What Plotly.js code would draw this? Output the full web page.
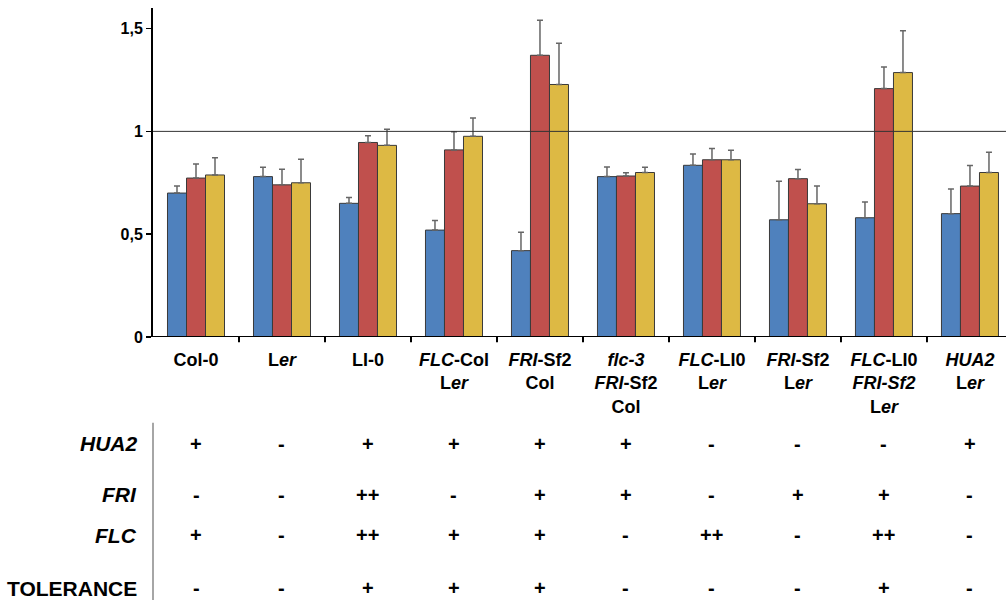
<!DOCTYPE html>
<html>
<head>
<meta charset="utf-8">
<script src="https://cdn.plot.ly/plotly-3.0.1.min.js"></script>
<style>
  html, body { margin: 0; padding: 0; background: #fff; }
  #chart { width: 1006px; height: 600px; }
</style>
</head>
<body>
<div id="chart"></div>
<script>
// Genotype labels (x categories)
const genotypes = [
  "Col-0",
  "L<i>er</i>",
  "LI-0",
  "<i>FLC</i>-Col<br>L<i>er</i>",
  "<i>FRI</i>-Sf2<br>Col",
  "<i>flc-3</i><br><i>FRI</i>-Sf2<br>Col",
  "<i>FLC</i>-LI0<br>L<i>er</i>",
  "<i>FRI</i>-Sf2<br>L<i>er</i>",
  "<i>FLC</i>-LI0<br><i>FRI-Sf2</i><br>L<i>er</i>",
  "<i>HUA2</i><br>L<i>er</i>"
];

// Relative values for the three series
const blueValues   = [0.70, 0.78, 0.65, 0.52, 0.42, 0.78, 0.835, 0.57, 0.58, 0.60];
const redValues    = [0.773, 0.74, 0.946, 0.91, 1.37, 0.783, 0.862, 0.77, 1.208, 0.734];
const yellowValues = [0.788, 0.75, 0.932, 0.976, 1.228, 0.80, 0.862, 0.648, 1.286, 0.80];

// Upper error bars
const blueErr   = [0.034, 0.046, 0.028, 0.046, 0.089, 0.047, 0.055, 0.188, 0.077, 0.120];
const redErr    = [0.068, 0.076, 0.033, 0.088, 0.170, 0.016, 0.055, 0.045, 0.105, 0.100];
const yellowErr = [0.084, 0.114, 0.078, 0.089, 0.201, 0.026, 0.046, 0.086, 0.203, 0.098];

// Genotype table rows below the chart
const rowNames = ["<i>HUA2</i>", "<i>FRI</i>", "<i>FLC</i>", "TOLERANCE"];
const rowHUA2      = ["+", "-", "+", "+", "+", "+", "-", "-", "-", "+"];
const rowFRI       = ["-", "-", "++", "-", "+", "+", "-", "+", "+", "-"];
const rowFLC       = ["+", "-", "++", "+", "+", "-", "++", "-", "++", "-"];
const rowTolerance = ["-", "-", "+", "+", "+", "-", "-", "-", "+", "-"];

const yTickVals = [0, 0.5, 1, 1.5];
const yTickText = ["0", "0,5", "1", "1,5"];

const FONT = "Liberation Sans, Arial, Helvetica, sans-serif";
const catIdx = genotypes.map((_, i) => i);

function barTrace(values, errs, color) {
  return {
    type: "bar",
    x: catIdx,
    y: values,
    marker: { color: color, line: { color: "#3a3a3a", width: 1 } },
    error_y: {
      type: "data", symmetric: false, array: errs,
      arrayminus: errs.map(() => 0),
      color: "#666", thickness: 1.5, width: 3
    },
    hoverinfo: "y"
  };
}

const traces = [
  barTrace(blueValues, blueErr, "#4F81BD"),
  barTrace(redValues, redErr, "#C0504D"),
  barTrace(yellowValues, yellowErr, "#DDB944")
];

// Paper coordinates for the table rows
const rowY = [-0.325, -0.48, -0.602, -0.763];
const rows = [rowHUA2, rowFRI, rowFLC, rowTolerance];

const annotations = [];
rows.forEach((row, r) => {
  annotations.push({
    xref: "paper", yref: "paper", x: -0.0164, y: rowY[r],
    xanchor: "right", yanchor: "middle", showarrow: false,
    text: "<b>" + rowNames[r] + "</b>",
    font: { family: FONT, size: 21, color: "#000" }
  });
  row.forEach((s, i) => {
    annotations.push({
      xref: "x", yref: "paper", x: i, y: rowY[r],
      xanchor: "center", yanchor: "middle", showarrow: false,
      text: "<b>" + s + "</b>",
      font: { family: FONT, size: 20, color: "#000" }
    });
  });
});

const layout = {
  width: 1006, height: 600,
  margin: { l: 153, r: 0, t: 8, b: 263 },
  paper_bgcolor: "#fff", plot_bgcolor: "#fff",
  showlegend: false,
  barmode: "group",
  bargap: 0.337,
  bargroupgap: 0,
  xaxis: {
    type: "linear",
    range: [-0.5, 9.419],
    tickvals: catIdx,
    ticktext: genotypes.map(g => "<b>" + g + "</b>"),
    ticks: "",
    showline: false,
    showgrid: false,
    zeroline: false,
    tickfont: { family: FONT, size: 18, color: "#000" },
    ticklabelstandoff: 10
  },
  yaxis: {
    range: [0, 1.6],
    tickvals: yTickVals,
    ticktext: yTickText.map(t => "<b>" + t + "</b>"),
    ticks: "outside", ticklen: 5, tickwidth: 1.5, tickcolor: "#000",
    showline: true, linecolor: "#000", linewidth: 2,
    showgrid: false, zeroline: false,
    tickfont: { family: FONT, size: 16, color: "#000" }
  },
  shapes: [
    // baseline
    { type: "line", xref: "paper", yref: "y", x0: 0, x1: 1, y0: 0, y1: 0,
      line: { color: "#000", width: 2 } },
    // reference line at 1
    { type: "line", xref: "paper", yref: "y", x0: 0, x1: 1, y0: 1, y1: 1,
      line: { color: "#333", width: 1 } },
    // separator between row names and table
    { type: "line", xref: "paper", yref: "paper", x0: 0, x1: 0, y0: -0.261, y1: -0.8,
      line: { color: "#888", width: 1.5 } }
  ].concat(catIdx.map(i => ({
    // tick marks at category boundaries
    type: "line", xref: "x", yref: "paper", x0: i + 0.5, x1: i + 0.5,
    y0: 0, y1: -0.016, line: { color: "#000", width: 2 }
  }))),
  annotations: annotations
};

Plotly.newPlot("chart", traces, layout, { staticPlot: true });
</script>
</body>
</html>
